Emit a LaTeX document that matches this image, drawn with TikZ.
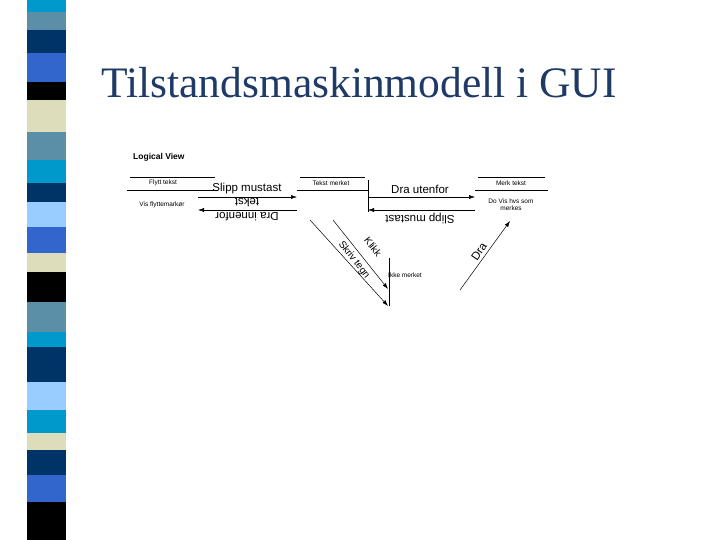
\documentclass[tikz,border=0pt]{standalone}
\usepackage{fontspec}
\setmainfont{Liberation Serif}
\newfontfamily\ds{Liberation Sans}
\definecolor{cy}{HTML}{0099CC}
\definecolor{st}{HTML}{5B8FA8}
\definecolor{nv}{HTML}{003366}
\definecolor{bl}{HTML}{3366CC}
\definecolor{bg}{HTML}{DDDDBB}
\definecolor{lb}{HTML}{99CCFF}
\definecolor{tt}{HTML}{1F3A66}
\tikzset{lbl/.style={font=\ds\fontsize{11.5}{11.5}\selectfont,inner sep=0},
 sm/.style={font=\ds\fontsize{6.5}{7}\selectfont,inner sep=0,align=center},
 ar/.style={-{Latex[length=6pt,width=4pt]},line width=0.5pt}}
\usetikzlibrary{arrows.meta}
\begin{document}
\begin{tikzpicture}[x=1pt,y=-1pt]
\useasboundingbox (0,0) rectangle (720,540);
\foreach \a/\b/\c in {0/12/cy,12/30/st,30/53/nv,53/82/bl,82/100/black,100/132/bg,132/160/st,160/183/cy,183/202/nv,202/227/lb,227/253/bl,253/272/bg,272/302/black,302/332/st,332/347/cy,347/382/nv,382/410/lb,410/433/cy,433/450/bg,450/475/nv,475/502/bl,502/540/black}
  \fill[\c] (27,\a) rectangle (66,\b);
\node[anchor=base west,inner sep=0,text=tt,font=\fontsize{43.5}{43.5}\selectfont] (t) at (101,98) {Tilstandsmaskinmodell i GUI};
\node[anchor=west,inner sep=0,font=\ds\bfseries\fontsize{8.5}{9}\selectfont] (lv) at (133,157) {Logical View};
% states
\draw[line width=0.4pt] (130,177)--(215,177) (127,190)--(218,190);
\draw[line width=0.4pt] (300,177)--(365,177) (297,190)--(368,190);
\draw[line width=0.4pt] (478,177)--(545,177) (475,190)--(548,190);
\node[sm] (s1) at (163,183) {Flytt tekst};
\node[sm] (s1b) at (162,205) {Vis flyttemarkør};
\node[sm] (s2) at (331,183) {Tekst merket};
\node[sm] (s3) at (511,183) {Merk tekst};
\node[sm] (s3b) at (511,205) {Do Vis hvs som\\merkes};
\node[sm] (s4) at (405,275) {Ikke merket};
\coordinate (a1) at (198,197); \coordinate (a2) at (297,197);
\coordinate (b1) at (297,210); \coordinate (b2) at (198,210);
\draw[ar] (a1)--(a2); \draw[ar] (b1)--(b2);
\node[lbl] (l1) at (247,189) {Slipp mustast};
\node[lbl,rotate=180] (l2) at (247,203) {tekst};
\node[lbl,rotate=180] (l3) at (247,217) {Dra innenfor};
\coordinate (v1) at (368,180); \coordinate (v2) at (368,212);
\draw (v1)--(v2);
\coordinate (c1) at (368,197); \coordinate (c2) at (475,197);
\coordinate (d1) at (475,210); \coordinate (d2) at (368,210);
\draw[ar] (c1)--(c2); \draw[ar] (d1)--(d2);
\node[lbl] (l4) at (420,189) {Dra utenfor};
\node[lbl,rotate=180] (l5) at (420,218) {Slipp mustast};
\coordinate (e1) at (310,220); \coordinate (e2) at (388,306);
\coordinate (f1) at (333,220); \coordinate (f2) at (388,289);
\draw[ar] (e1)--(e2); \draw[ar] (f1)--(f2);
\coordinate (w1) at (389,258); \coordinate (w2) at (389,306);
\draw (w1)--(w2);
\node[lbl,rotate=-52,font=\ds\fontsize{10}{10}\selectfont] (l6) at (373,247) {Klikk};
\node[lbl,rotate=-52,font=\ds\fontsize{10}{10}\selectfont] (l7) at (354,260) {Skriv tegn};
\coordinate (g1) at (460,290); \coordinate (g2) at (510,221);
\draw[ar] (g1)--(g2);
\node[lbl,rotate=56] (l8) at (479,252) {Dra};
\end{tikzpicture}
\end{document}
